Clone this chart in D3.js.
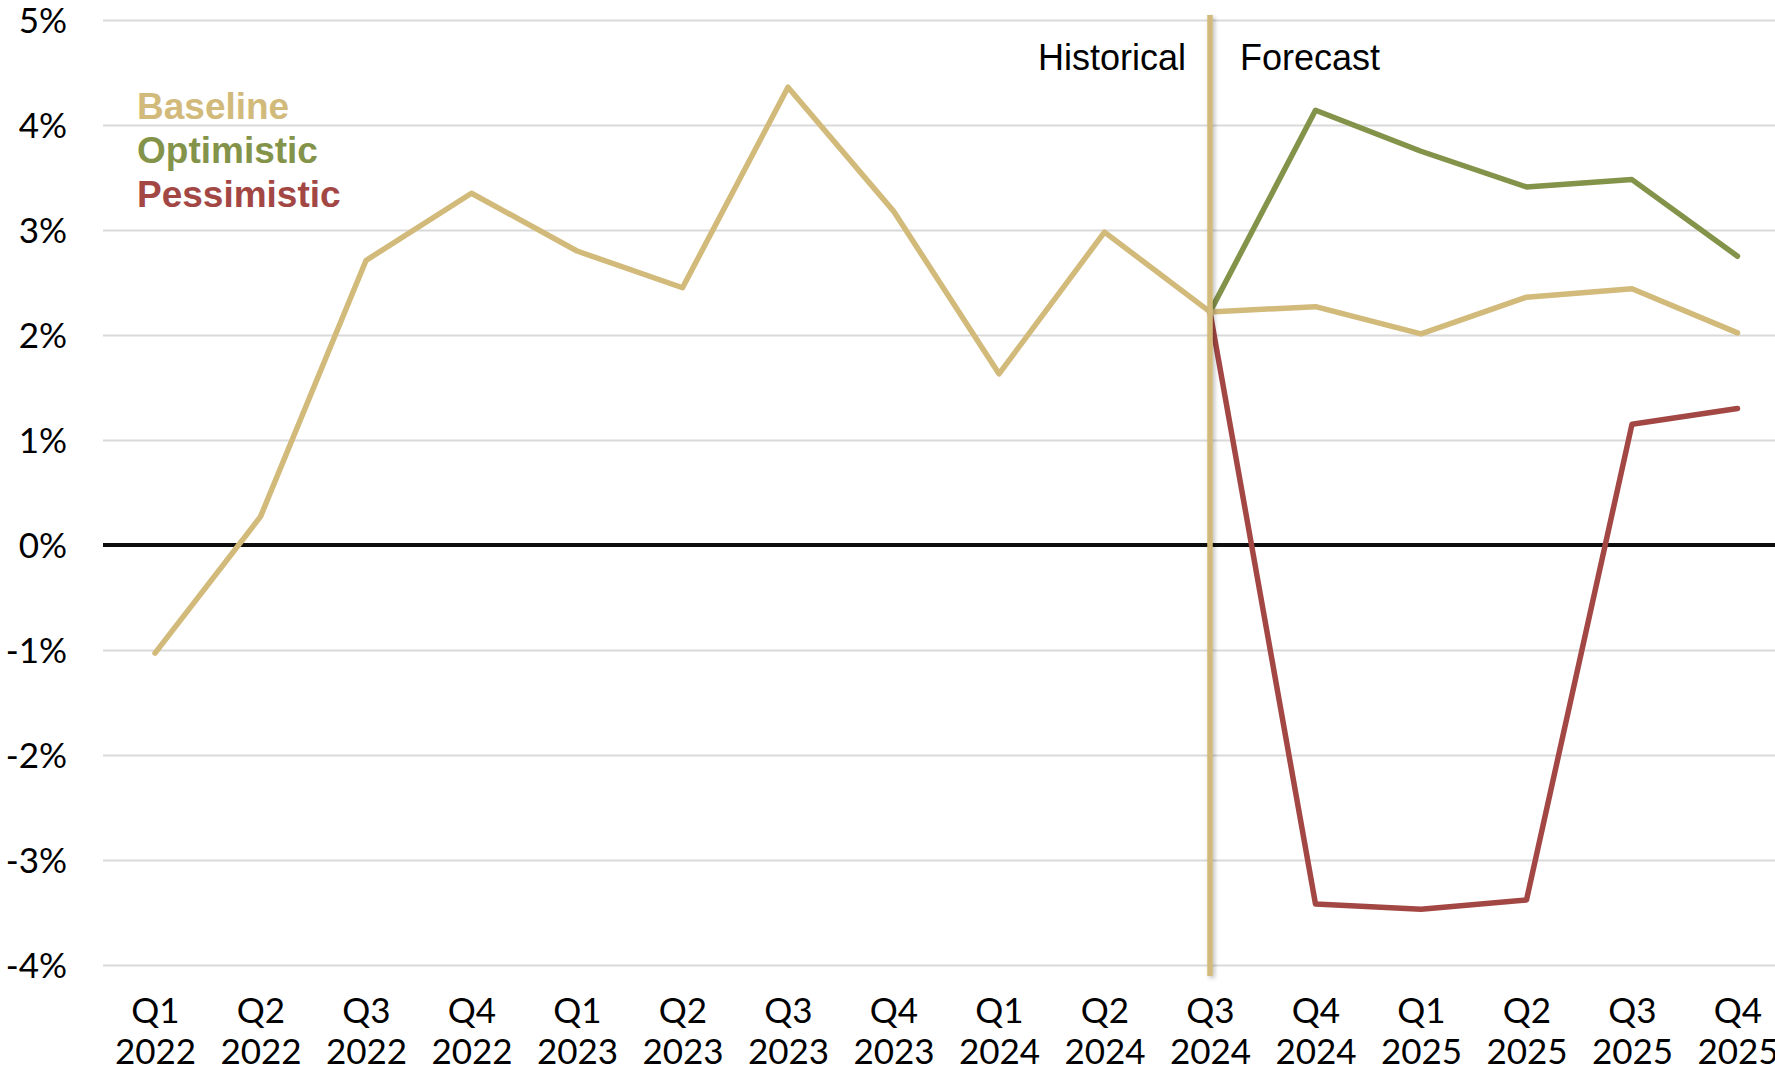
<!DOCTYPE html>
<html>
<head>
<meta charset="utf-8">
<script src="https://cdn.jsdelivr.net/npm/d3@7"></script>
<style>
  html, body { margin: 0; padding: 0; background: #ffffff; }
  svg { display: block; }
</style>
</head>
<body>
<svg id="chart" width="1775" height="1073"></svg>
<script>
// Quarterly growth rate, history plus three forecast scenarios
const quarters = ["Q1","Q2","Q3","Q4","Q1","Q2","Q3","Q4","Q1","Q2","Q3","Q4","Q1","Q2","Q3","Q4"];
const years    = ["2022","2022","2022","2022","2023","2023","2023","2023","2024","2024","2024","2024","2025","2025","2025","2025"];

const baseline    = [-1.03, 0.27, 2.71, 3.35, 2.80, 2.45, 4.36, 3.18, 1.63, 2.98, 2.22, 2.27, 2.01, 2.36, 2.44, 2.02];
// forecast scenarios start from the last historical quarter (index 10)
const optimistic  = [null, null, null, null, null, null, null, null, null, null, 2.22, 4.14, 3.75, 3.41, 3.48, 2.75];
const pessimistic = [null, null, null, null, null, null, null, null, null, null, 2.22, -3.42, -3.47, -3.38, 1.15, 1.30];

const yTicks = [5, 4, 3, 2, 1, 0, -1, -2, -3, -4];
const splitIndex = 10;

const colors = { baseline: "#D2BA7B", optimistic: "#84934A", pessimistic: "#A34745" };

const svg = d3.select("#chart");
const W = 1775;

const keys = quarters.map((q, i) => i);
const x = d3.scalePoint().domain(keys).range([155, 1737.5]);
const y = d3.scaleLinear().domain([-4, 5]).range([965, 20]);

const defs = svg.append("defs");
const shadow = defs.append("filter").attr("id", "soft-shadow")
  .attr("filterUnits", "userSpaceOnUse")
  .attr("x", 1150).attr("y", 0).attr("width", 120).attr("height", 1000);
shadow.append("feDropShadow").attr("dx", 2).attr("dy", 2).attr("stdDeviation", 2)
  .attr("flood-color", "#000").attr("flood-opacity", 0.25);

// horizontal gridlines and percentage labels
const yAxis = d3.axisLeft(y).tickValues(yTicks).tickSize(-(W - 103)).tickFormat(d => d + "%");
const gy = svg.append("g").attr("transform", "translate(103,0)").call(yAxis);
gy.select(".domain").remove();
gy.selectAll(".tick line").attr("stroke", "#D9D9D9").attr("stroke-width", 2);
gy.selectAll(".tick text")
  .attr("x", -36).attr("dy", "0.36em")
  .style("font-family", "Lato, 'Open Sans', sans-serif")
  .style("font-size", "35px").attr("fill", "#000");

// zero line
svg.append("line")
  .attr("x1", 103).attr("x2", W)
  .attr("y1", y(0)).attr("y2", y(0))
  .attr("stroke", "#0d0d0d").attr("stroke-width", 4);

// category labels on two lines
const xAxis = d3.axisBottom(x).tickSize(0).tickFormat(() => "");
const gx = svg.append("g").attr("transform", "translate(0,965)").call(xAxis);
gx.select(".domain").remove();
gx.selectAll(".tick").each(function(d) {
  const t = d3.select(this).append("text")
    .attr("text-anchor", "middle")
    .attr("fill", "#000")
    .style("font-family", "Lato, 'Open Sans', sans-serif")
    .style("font-size", "35px");
  t.append("tspan").attr("x", 0).attr("y", 58).text(quarters[d]);
  t.append("tspan").attr("x", 0).attr("y", 99).text(years[d]);
});

const line = d3.line()
  .defined(d => d.v !== null)
  .x(d => x(d.i))
  .y(d => y(d.v));

function series(values) { return values.map((v, i) => ({ i, v })); }

const lines = [
  { name: "optimistic", values: optimistic },
  { name: "pessimistic", values: pessimistic },
  { name: "baseline", values: baseline }
];

svg.append("g").selectAll("path").data(lines).join("path")
  .attr("d", d => line(series(d.values)))
  .attr("fill", "none")
  .attr("stroke", d => colors[d.name])
  .attr("stroke-width", 5.5)
  .attr("stroke-linejoin", "round")
  .attr("stroke-linecap", "round");

// divider between history and forecast
svg.append("rect")
  .attr("x", x(splitIndex) - 2.75).attr("width", 5.5)
  .attr("y", 15).attr("height", 961)
  .attr("fill", colors.baseline)
  .attr("filter", "url(#soft-shadow)");

const labelFont = "'Liberation Sans', Arial, sans-serif";
svg.append("text")
  .attr("x", x(splitIndex) - 24).attr("y", 70)
  .attr("text-anchor", "end")
  .style("font-family", labelFont).style("font-size", "36px")
  .attr("fill", "#000").text("Historical");
svg.append("text")
  .attr("x", x(splitIndex) + 30).attr("y", 70)
  .attr("text-anchor", "start")
  .style("font-family", labelFont).style("font-size", "36px")
  .attr("fill", "#000").text("Forecast");

// legend
const legend = [
  { label: "Baseline", key: "baseline" },
  { label: "Optimistic", key: "optimistic" },
  { label: "Pessimistic", key: "pessimistic" }
];
svg.append("g").selectAll("text").data(legend).join("text")
  .attr("x", 137)
  .attr("y", (d, i) => 119 + i * 44)
  .style("font-family", labelFont)
  .style("font-size", "37px")
  .style("font-weight", "bold")
  .attr("fill", d => colors[d.key])
  .text(d => d.label);
</script>
</body>
</html>
